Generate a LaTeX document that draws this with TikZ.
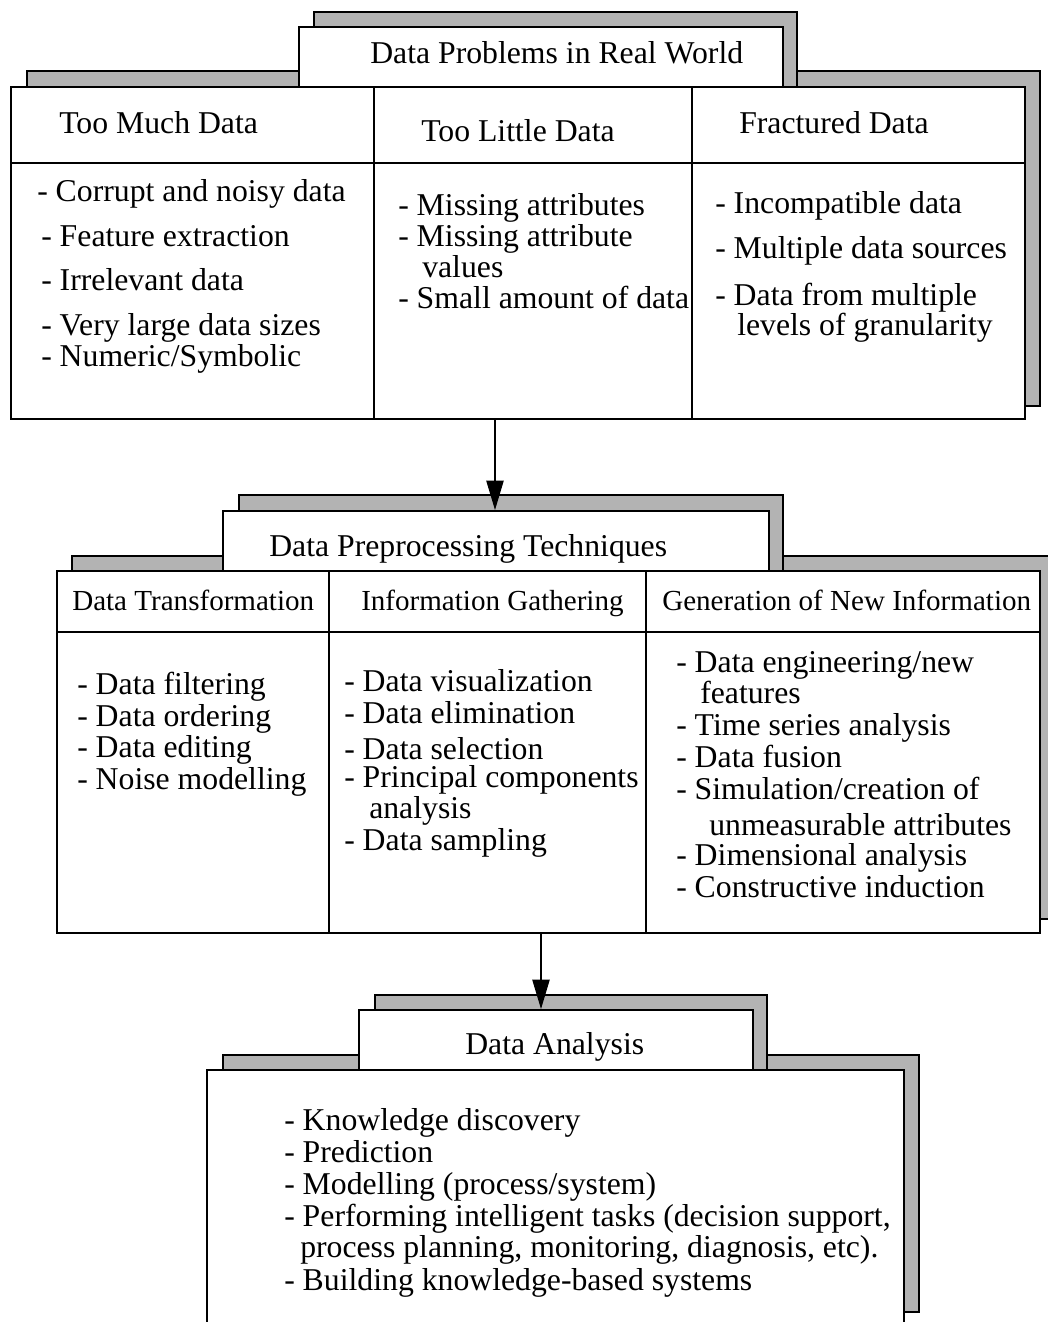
\documentclass[tikz,border=0pt]{standalone}
\usepackage{fontspec}
\setmainfont{Liberation Serif}
\usetikzlibrary{arrows.meta,fit}
\definecolor{shade}{RGB}{179,179,179}
\begin{document}
\begin{tikzpicture}[x=0.75pt,y=-0.75pt,
  shadowbox/.style={draw=black, line width=1pt, fill=shade, inner sep=0pt},
  mainbox/.style={draw=black, line width=1.5pt, fill=white, inner sep=0pt},
  titlebox/.style={draw=black, line width=1.5pt, fill=white, inner sep=0pt},
  divider/.style={line width=0.8pt},
  txt/.style={anchor=base west, inner sep=0pt, font=\fontsize{23.8}{24}\selectfont},
  hdr/.style={anchor=base west, inner sep=0pt, font=\fontsize{21.8}{24}\selectfont},
  arr/.style={line width=0.8pt, -{Triangle[length=22pt,width=13pt]}}
]
\useasboundingbox (0,0) rectangle (1048,1322);
\clip (0,0) rectangle (1048,1322);

% ---------- Section 1 ----------
\node[shadowbox, fit={(27,71) (1040,406)}] (s1) {};
\node[shadowbox, fit={(314,12) (797,87)}] (ts1) {};
\node[mainbox, fit={(11,87) (1025,419)}] (b1) {};
\node[titlebox, fit={(299,27) (783,87)}] (t1) {};
\draw[divider] (b1.west |- 0,163) -- (b1.east |- 0,163);
\draw[divider] (374,87) -- (374,419);
\draw[divider] (692,87) -- (692,419);

\node[txt] (h1) at (370,63) {Data Problems in Real World};
\node[txt] (c11) at (59,133) {Too Much Data};
\node[txt] (c12) at (421,141) {Too Little Data};
\node[txt] (c13) at (739,133) {Fractured Data};

\node[txt] (i111) at (37,201) {- Corrupt and noisy data};
\node[txt] (i112) at (41,246) {- Feature extraction};
\node[txt] (i113) at (41,290) {- Irrelevant data};
\node[txt] (i114) at (41,335) {- Very large data sizes};
\node[txt] (i115) at (41,366) {- Numeric/Symbolic};

\node[txt] (i121) at (398,215) {- Missing attributes};
\node[txt] (i122) at (398,246) {- Missing attribute};
\node[txt] (i123) at (422,277) {values};
\node[txt] (i124) at (398,308) {- Small amount of data};

\node[txt] (i131) at (715,213) {- Incompatible data};
\node[txt] (i132) at (715,258) {- Multiple data sources};
\node[txt] (i133) at (715,305) {- Data from multiple};
\node[txt] (i134) at (737,335) {levels of granularity};

% ---------- Section 2 ----------
\node[shadowbox, fit={(72,556) (1060,919)}] (s2) {};
\node[shadowbox, fit={(239,495) (783,571)}] (ts2) {};
\node[mainbox, fit={(57,571) (1040,933)}] (b2) {};
\node[titlebox, fit={(223,511) (769,571)}] (t2) {};
\draw[divider] (b2.west |- 0,632) -- (b2.east |- 0,632);
\draw[divider] (329,571) -- (329,933);
\draw[divider] (646,571) -- (646,933);

\node[txt] (h2) at (269,556) {Data Preprocessing Techniques};
\node[hdr] (c21) at (72,610) {Data Transformation};
\node[hdr] (c22) at (361,610) {Information Gathering};
\node[hdr] (c23) at (662,610) {Generation of New Information};

\node[txt] (i211) at (77,694) {- Data filtering};
\node[txt] (i212) at (77,726) {- Data ordering};
\node[txt] (i213) at (77,757) {- Data editing};
\node[txt] (i214) at (77,789) {- Noise modelling};

\node[txt] (i221) at (344,691) {- Data visualization};
\node[txt] (i222) at (344,723) {- Data elimination};
\node[txt] (i223) at (344,759) {- Data selection};
\node[txt] (i224) at (344,787) {- Principal components};
\node[txt] (i225) at (369,818) {analysis};
\node[txt] (i226) at (344,850) {- Data sampling};

\node[txt] (i231) at (676,672) {- Data engineering/new};
\node[txt] (i232) at (700,703) {features};
\node[txt] (i233) at (676,735) {- Time series analysis};
\node[txt] (i234) at (676,767) {- Data fusion};
\node[txt] (i235) at (676,799) {- Simulation/creation of};
\node[txt] (i236) at (709,835) {unmeasurable attributes};
\node[txt] (i237) at (676,865) {- Dimensional analysis};
\node[txt] (i238) at (676,897) {- Constructive induction};

% ---------- Section 3 ----------
\node[shadowbox, fit={(223,1055) (919,1312)}] (s3) {};
\node[shadowbox, fit={(375,995) (767,1070)}] (ts3) {};
\node[mainbox, fit={(207,1070) (904,1345)}] (b3) {};
\node[titlebox, fit={(359,1010) (753,1070)}] (t3) {};

\node[txt] (h3) at (465,1054) {Data Analysis};
\node[txt] (i31) at (284,1130) {- Knowledge discovery};
\node[txt] (i32) at (284,1162) {- Prediction};
\node[txt] (i33) at (284,1194) {- Modelling (process/system)};
\node[txt] (i34) at (284,1226) {- Performing intelligent tasks (decision support,};
\node[txt] (i35) at (300,1257) {process planning, monitoring, diagnosis, etc).};
\node[txt] (i36) at (284,1290) {- Building knowledge-based systems};

% ---------- Connectors ----------
\coordinate (x1) at (495,0);
\coordinate (x2) at (541,0);
\draw[arr] (b1.south -| x1) -- (t2.north -| x1);
\draw[arr] (b2.south -| x2) -- (t3.north -| x2);
\end{tikzpicture}
\end{document}
